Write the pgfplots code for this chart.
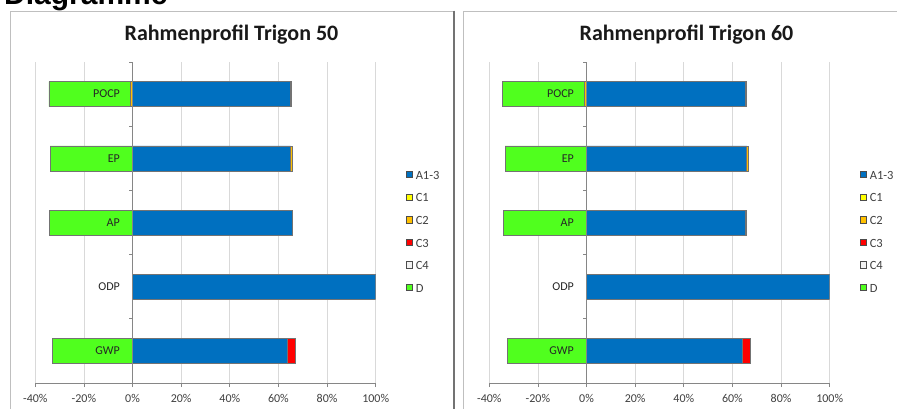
\documentclass[border=0pt]{standalone}
\usepackage{fontspec}
\setmainfont{Carlito}
\newfontfamily\headfont{Liberation Sans}
\usepackage{pgfplots}
\pgfplotsset{compat=1.18}
\usepackage{pgfplotstable}

\definecolor{cA}{HTML}{0070C0}
\definecolor{cCa}{HTML}{FFFF00}
\definecolor{cCb}{HTML}{FFC000}
\definecolor{cCc}{HTML}{FF0000}
\definecolor{cCd}{HTML}{F2F2F2}
\definecolor{cD}{HTML}{50FF1E}
\definecolor{gridgray}{HTML}{D9D9D9}
\definecolor{axisgray}{HTML}{868686}
\definecolor{labgray}{HTML}{404040}
\definecolor{bordergray}{HTML}{BFBFBF}

% y: 0=GWP 1=ODP 2=AP 3=EP 4=POCP
\pgfplotstableread{
y  A     Ca  Cb   Cc   Cd   Cbn   D
0  63.8  0   0    3.2  0    0     -33.1
1  100   0   0    0    0    0     0
2  65.5  0   0    0.2  0.2  0     -34.3
3  65.0  0   0.7  0    0    0     -33.9
4  65.0  0   0    0    0.2  -0.8  -33.6
}\tabA
\pgfplotstableread{
y  A     Ca  Cb   Cc   Cd   Cbn   D
0  64.1  0   0    3.2  0    0     -32.7
1  100   0   0    0    0    0     0
2  65.4  0   0    0.2  0.2  0     -34.3
3  65.9  0   0.8  0    0    0     -33.5
4  65.4  0   0    0    0.2  -0.9  -33.6
}\tabB

\tikzset{catlab/.style={anchor=east, inner sep=0pt, xshift=-12.5pt, font=\fontsize{12}{14}\selectfont, text=black!85}}
\pgfplotsset{
  mybarleg/.style={legend image code/.code={\draw[##1,draw=black!70,line width=0.5pt] (0pt,-1.3pt) rectangle (6.4pt,5.1pt);}},
  barsty/.style={draw=black!55, line width=0.6pt},
  baseax/.style={
    scale only axis, width=340.4pt, height=321pt,
    xbar stacked, bar width=25pt,
    xmin=-40, xmax=100, ymin=-0.5, ymax=4.5,
  },
  mainax/.style={
    baseax,
    axis x line*=bottom, axis y line=none,
    xtick={-40,-20,0,20,40,60,80,100},
    xticklabels={-40\%,-20\%,0\%,20\%,40\%,60\%,80\%,100\%},
    ytick=\empty,
    xmajorgrids, grid style={draw=gridgray, line width=0.8pt},
    x axis line style={draw=axisgray, line width=0.8pt, -},
    xtick style={draw=axisgray, line width=0.8pt},
    tick align=outside, major tick length=4pt,
    xticklabel style={font=\fontsize{12}{14}\selectfont, text=labgray, yshift=-4pt},
    legend style={at={(axis description cs:1.0886,0.6604)}, anchor=north west,
      draw=none, fill=none, inner sep=0pt, outer sep=0pt,
      font=\fontsize{12.5}{14}\selectfont, text=labgray, row sep=12.2pt,
      nodes={inner xsep=3pt, inner ysep=0pt, text height=8pt, text depth=2pt}},
    legend cell align=left,
  },
  overax/.style={baseax, hide axis, clip=false},
}

\begin{document}
\begin{tikzpicture}[x=1pt,y=1pt]
\useasboundingbox (0,0) rectangle (897,408);
\fill[white] (0,0) rectangle (897,408);
\draw[bordergray, line width=0.8pt] (10,-5) -- (10,397) -- (454,397);
\draw[black!55, line width=2pt] (454,397.4) -- (454,-5);
\draw[bordergray, line width=0.8pt] (463.5,-5) -- (463.5,397) -- (905,397);
\node[anchor=base west, inner sep=0pt, font=\headfont\bfseries\fontsize{30}{30}\selectfont] at (4,403.5) {Diagramme};
\node[anchor=base, inner sep=0pt, font=\bfseries\fontsize{22}{24}\selectfont, text=black!90] at (231.5,367.5) {Rahmenprofil Trigon 50};
\node[anchor=base, inner sep=0pt, font=\bfseries\fontsize{22}{24}\selectfont, text=black!90] at (686.5,367.5) {Rahmenprofil Trigon 60};

% ---------- left panel ----------
\begin{axis}[mainax, at={(35.3pt,25pt)}, anchor=south west]
\addplot[barsty, fill=cA, mybarleg] table[x=A, y=y] {\tabA};
\addplot[barsty, fill=cCa, mybarleg] table[x=Ca, y=y] {\tabA};
\addplot[barsty, fill=cCb, mybarleg] table[x=Cb, y=y] {\tabA};
\addplot[barsty, fill=cCc, mybarleg] table[x=Cc, y=y] {\tabA};
\addplot[barsty, fill=cCd, mybarleg] table[x=Cd, y=y] {\tabA};
\addlegendimage{barsty, fill=cD, mybarleg}
\legend{A1-3,C1,C2,C3,C4,D}
\end{axis}
\begin{axis}[overax, at={(35.3pt,25pt)}, anchor=south west]
\addplot[barsty, fill=cCb] table[x=Cbn, y=y] {\tabA};
\addplot[barsty, fill=cD] table[x=D, y=y] {\tabA};
\end{axis}
\begin{axis}[overax, at={(35.3pt,25pt)}, anchor=south west]
\draw[axisgray, line width=0.8pt] (axis cs:0,-0.5) -- (axis cs:0,4.5);
\pgfplotsinvokeforeach{-0.5,0.5,1.5,2.5,3.5,4.5}{\draw[axisgray, line width=0.8pt] (axis cs:0,#1) -- ++(-4pt,0pt);}
\node[catlab] at (axis cs:0,4) {POCP};
\node[catlab] at (axis cs:0,3) {EP};
\node[catlab] at (axis cs:0,2) {AP};
\node[catlab] at (axis cs:0,1) {ODP};
\node[catlab] at (axis cs:0,0) {GWP};
\end{axis}

% ---------- right panel ----------
\begin{axis}[mainax, at={(489.3pt,25pt)}, anchor=south west]
\addplot[barsty, fill=cA, mybarleg] table[x=A, y=y] {\tabB};
\addplot[barsty, fill=cCa, mybarleg] table[x=Ca, y=y] {\tabB};
\addplot[barsty, fill=cCb, mybarleg] table[x=Cb, y=y] {\tabB};
\addplot[barsty, fill=cCc, mybarleg] table[x=Cc, y=y] {\tabB};
\addplot[barsty, fill=cCd, mybarleg] table[x=Cd, y=y] {\tabB};
\addlegendimage{barsty, fill=cD, mybarleg}
\legend{A1-3,C1,C2,C3,C4,D}
\end{axis}
\begin{axis}[overax, at={(489.3pt,25pt)}, anchor=south west]
\addplot[barsty, fill=cCb] table[x=Cbn, y=y] {\tabB};
\addplot[barsty, fill=cD] table[x=D, y=y] {\tabB};
\end{axis}
\begin{axis}[overax, at={(489.3pt,25pt)}, anchor=south west]
\draw[axisgray, line width=0.8pt] (axis cs:0,-0.5) -- (axis cs:0,4.5);
\pgfplotsinvokeforeach{-0.5,0.5,1.5,2.5,3.5,4.5}{\draw[axisgray, line width=0.8pt] (axis cs:0,#1) -- ++(-4pt,0pt);}
\node[catlab] at (axis cs:0,4) {POCP};
\node[catlab] at (axis cs:0,3) {EP};
\node[catlab] at (axis cs:0,2) {AP};
\node[catlab] at (axis cs:0,1) {ODP};
\node[catlab] at (axis cs:0,0) {GWP};
\end{axis}
\end{tikzpicture}
\end{document}
